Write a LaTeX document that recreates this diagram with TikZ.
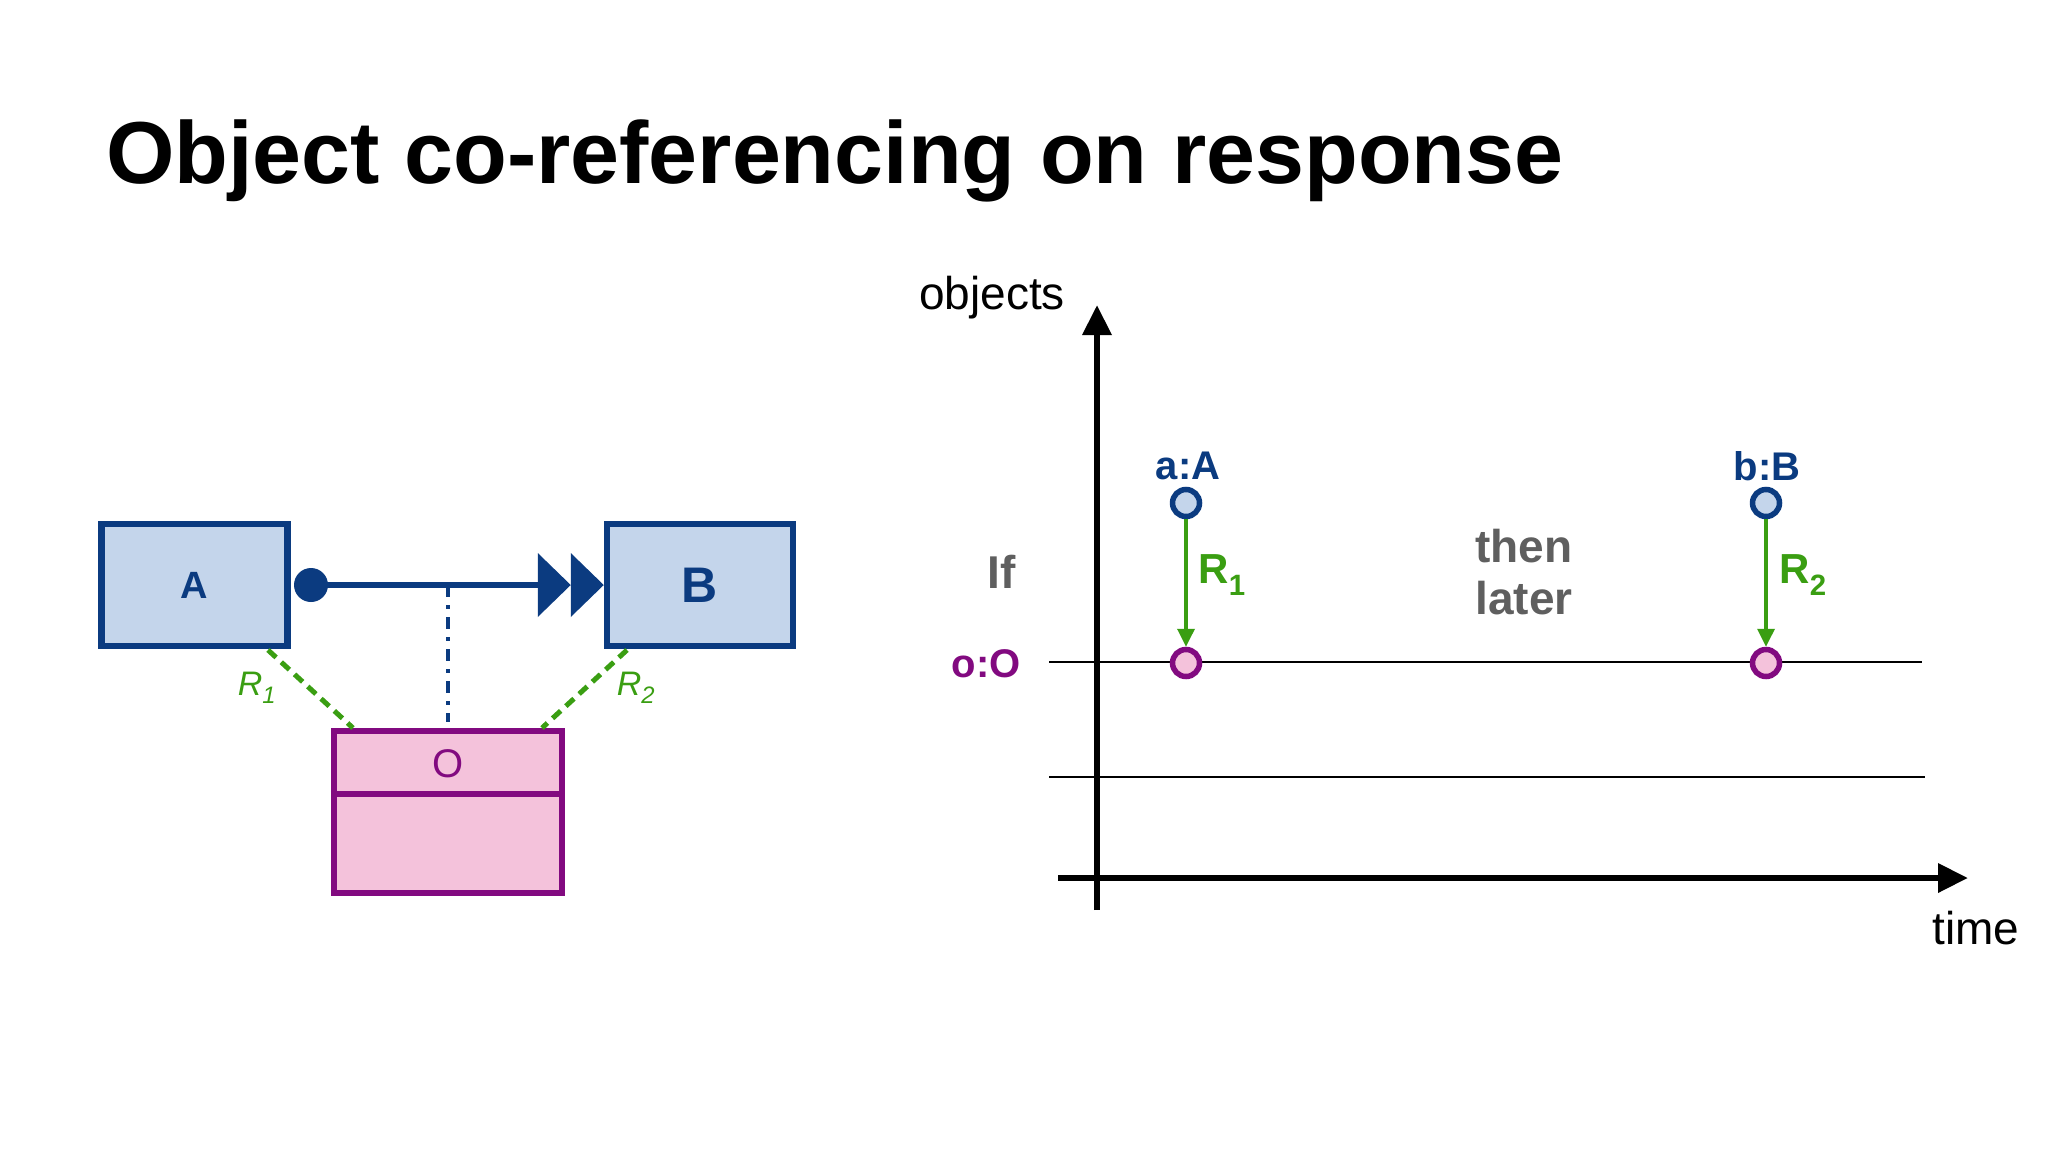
\documentclass[tikz,border=0pt]{standalone}
\usepackage{fontspec}
\setmainfont{Liberation Sans}
\usetikzlibrary{arrows.meta}
\definecolor{dblue}{HTML}{0B3B80}
\definecolor{lblue}{HTML}{C4D5EB}
\definecolor{dpurp}{HTML}{820A80}
\definecolor{lpink}{HTML}{F4C2DB}
\definecolor{grn}{HTML}{3A9E12}
\definecolor{gry}{HTML}{5F5F5F}
\newcommand{\fs}[1]{\fontsize{#1}{#1}\selectfont}
\begin{document}
\begin{tikzpicture}[x=1pt,y=-1pt,
 cls/.style={draw=dblue,fill=lblue,line width=6.5pt,minimum width=186pt,minimum height=122pt,inner sep=0pt},
 pt/.style={circle,line width=5.5pt,minimum size=27pt,inner sep=0pt},
 apt/.style={pt,draw=dblue,fill=lblue},
 opt/.style={pt,draw=dpurp,fill=lpink},
 gdash/.style={draw=grn,line width=5pt,dash pattern=on 11pt off 7pt},
 glab/.style={text=grn,font=\fs{34}\itshape},
 btxt/.style={font=\fs{40}\bfseries},
 grtxt/.style={text=gry,font=\fs{46}\bfseries},
 resp/.style={draw=grn,line width=3.5pt,-{Triangle[length=18pt,width=17pt]}}]
\useasboundingbox (0,0) rectangle (2048,1152);
\fill[white] (0,0) rectangle (2048,1152);
\node[anchor=base west,inner sep=0pt,font=\fs{88}\bfseries] (title) at (106,183) {Object co-referencing on response};
% left diagram
\node[cls,font=\fs{38}\bfseries,text=dblue] (A) at (194.5,585) {A};
\node[cls,font=\fs{50}\bfseries,text=dblue] (B) at (700,585) {B};
\node[draw=dpurp,fill=lpink,line width=6.5pt,minimum width=228pt,minimum height=162pt,inner sep=0pt] (O) at (448,812) {};
\draw[dpurp,line width=6.5pt] (O.west |- 0,794) -- (O.east |- 0,794);
\node[text=dpurp,font=\fs{40}] (Ol) at (448,764) {O};
\fill[dblue] (311,585) circle (17);
\coordinate (mid) at (448,585);
\draw[dblue,line width=5.5pt] (311,585) -- ([xshift=-60pt]B.west);
\fill[dblue] ([xshift=-66pt]B.west) ++(0,-32) -- ++(33,32) -- ++(-33,32) -- cycle;
\fill[dblue] ([xshift=-33pt]B.west) ++(0,-32) -- ++(33,32) -- ++(-33,32) -- cycle;
\draw[dblue,line width=4.5pt,dash pattern=on 12pt off 8pt on 4pt off 8pt] (mid) -- (448,722);
\draw[gdash] (268,650) -- (353,728);
\draw[gdash] (627,650) -- (542,728);
\node[glab] (r1) at (257,688) {R\textsubscript{1}};
\node[glab] (r2) at (636,688) {R\textsubscript{2}};
% right diagram
\coordinate (yb) at (1097,910);
\coordinate (yt) at (1097,305);
\coordinate (xl) at (1058,878);
\coordinate (xr) at (1968,878);
\draw[line width=6.5pt,-{Triangle[length=30pt,width=28pt]}] (yb) -- (yt);
\draw[line width=6.5pt,-{Triangle[length=30pt,width=28pt]}] (xl) -- (xr);
\node[font=\fs{46}] (objl) at (992,298) {objects};
\node[font=\fs{46}] (timel) at (1976,928) {time};
\coordinate (l1a) at (1049,662); \coordinate (l1b) at (1922,662);
\coordinate (l2a) at (1049,777); \coordinate (l2b) at (1925,777);
\draw[line width=2.2pt] (l1a) -- (l1b);
\draw[line width=2.2pt] (l2a) -- (l2b);
\node[apt] (a) at (1186,503) {};
\node[apt] (b) at (1766,503) {};
\node[opt] (o1) at (1186,663) {};
\node[opt] (o2) at (1766,663) {};
\draw[resp] (a) -- (o1);
\draw[resp] (b) -- (o2);
\node[btxt,text=dblue] (al) at (1188,466) {a:A};
\node[btxt,text=dblue] (bl) at (1767,466) {b:B};
\node[btxt,text=dpurp] (ol) at (986,664) {o:O};
\node[grtxt] (if) at (1002,572) {If};
\node[grtxt,align=center,anchor=center] (then) at (1524,572) {then\\[6pt]later};
\node[text=grn,font=\fs{42}\bfseries] (R1) at (1222,575) {R\textsubscript{1}};
\node[text=grn,font=\fs{42}\bfseries] (R2) at (1803,575) {R\textsubscript{2}};
\end{tikzpicture}
\end{document}
